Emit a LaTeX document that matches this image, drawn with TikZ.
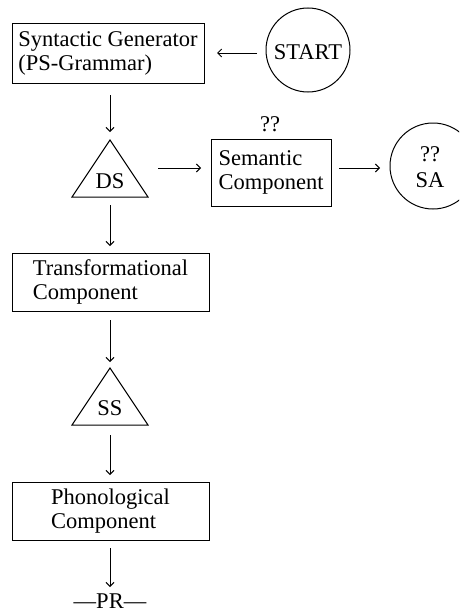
\documentclass[tikz,border=0pt]{standalone}
\usepackage{fontspec}
\setmainfont{Liberation Serif}
\usetikzlibrary{arrows.meta}
\begin{document}
\begin{tikzpicture}[x=1pt,y=-1pt,
  every node/.style={font=\fontsize{22.5}{24}\selectfont},
  box/.style={draw,line width=1pt,align=left,inner sep=0pt},
  circ/.style={draw,circle,line width=1pt,inner sep=0pt},
  tri/.style={draw,line width=1pt,line join=miter},
  conn/.style={line width=1pt,-{Straight Barb[length=4pt,width=8pt]}},
  lbl/.style={inner sep=0pt}]
\useasboundingbox (0,0) rectangle (459,613);
\clip (0,0) rectangle (459,613);
% boxes
\node[box,minimum width=192pt,minimum height=60pt] (gen) at (108,53) {Syntactic Generator\\(PS-Grammar)};
\node[circ,minimum size=84pt] (start) at (308,50) {};
\node[lbl] (startt) at (308,52) {START};
\node[box,minimum width=120pt,minimum height=67pt] (sem) at (271,172.5) {Semantic\\Component};
\node[lbl] (qq) at (270,124) {??};
\node[circ,minimum size=86pt] (sa) at (433,166) {};
\node[lbl] (saq) at (430,154) {??};
\node[lbl] (sat) at (430,180) {SA};
\node[box,minimum width=197pt,minimum height=58pt] (trans) at (110.5,282) {Transformational\\Component};
\node[box,minimum width=197pt,minimum height=58pt] (phon) at (110.5,511) {Phonological\\Component};
\node[lbl] (pr) at (110,601.5) {---PR---};
% triangles
\coordinate (dsTop) at (110,140);
\coordinate (dsBot) at (110,197);
\draw[tri] (dsTop) -- (148,197) -- (72,197) -- cycle;
\node[lbl] (ds) at (110,181) {DS};
\coordinate (ssTop) at (110,368);
\coordinate (ssBot) at (110,425);
\draw[tri] (ssTop) -- (148,425) -- (72,425) -- cycle;
\node[lbl] (ss) at (110,408) {SS};
% connector end points
\coordinate (a1s) at (257,53);
\coordinate (a1e) at (217,53);
\coordinate (a2s) at (110,95);
\coordinate (a2e) at (110,132);
\coordinate (a3s) at (158,168);
\coordinate (a3e) at (201,168);
\coordinate (a4s) at (339,168);
\coordinate (a4e) at (380,168);
\coordinate (a5s) at (110,205);
\coordinate (a5e) at (110,246);
\coordinate (a6s) at (110,320);
\coordinate (a6e) at (110,362);
\coordinate (a7s) at (110,435);
\coordinate (a7e) at (110,475);
\coordinate (a8s) at (110,548);
\coordinate (a8e) at (110,587);
\draw[conn] (a1s) -- (a1e);
\draw[conn] (a2s) -- (a2e);
\draw[conn] (a3s) -- (a3e);
\draw[conn] (a4s) -- (a4e);
\draw[conn] (a5s) -- (a5e);
\draw[conn] (a6s) -- (a6e);
\draw[conn] (a7s) -- (a7e);
\draw[conn] (a8s) -- (a8e);
\end{tikzpicture}
\end{document}
